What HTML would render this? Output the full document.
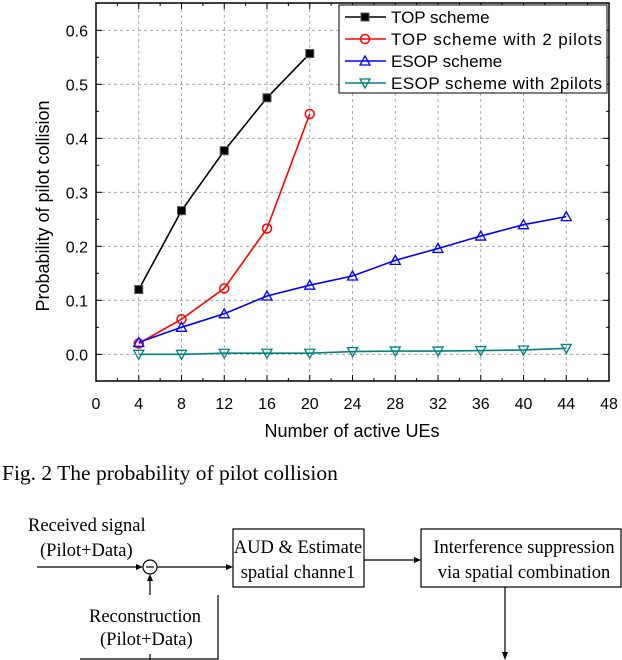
<!DOCTYPE html>
<html><head><meta charset="utf-8"><style>
body{margin:0;background:#fff;width:622px;height:660px;overflow:hidden}
svg{display:block}
</style></head><body>
<svg id="c" width="622" height="660" xmlns="http://www.w3.org/2000/svg" font-family="Liberation Sans, sans-serif">
<g id="plot"></g>
<g><text x="2" y="480" font-family="Liberation Serif, serif" font-size="21.5">Fig. 2 The probability of pilot collision</text></g>
<g font-family="Liberation Serif, serif" font-size="18.5" stroke-width="1.2">
<text x="28" y="531">Received signal</text>
<text x="40" y="556">(Pilot+Data)</text>
<line x1="37" y1="567" x2="141" y2="567" stroke="#000"/>
<polygon points="143,567 136,564 136,570" fill="#000"/>
<circle cx="150" cy="567" r="7" fill="none" stroke="#000"/>
<line x1="146" y1="567" x2="154" y2="567" stroke="#000"/>
<line x1="157" y1="567" x2="231" y2="567" stroke="#000"/>
<polygon points="233,567 226,564 226,570" fill="#000"/>
<line x1="150" y1="595" x2="150" y2="576" stroke="#000"/>
<polygon points="150,574 147,581 153,581" fill="#000"/>
<rect x="233" y="529" width="131" height="58" fill="none" stroke="#000"/>
<text x="298" y="553" text-anchor="middle">AUD &amp; Estimate</text>
<text x="298" y="578" text-anchor="middle">spatial channe1</text>
<line x1="364" y1="560" x2="419" y2="560" stroke="#000"/>
<polygon points="421,560 414,557 414,563" fill="#000"/>
<rect x="421" y="529" width="200" height="58" fill="none" stroke="#000"/>
<text x="524" y="553" text-anchor="middle">Interference suppression</text>
<text x="524" y="578" text-anchor="middle">via spatial combination</text>
<line x1="505" y1="587" x2="505" y2="655" stroke="#000"/>
<polygon points="505,660 502,652 508,652" fill="#000"/>
<polyline points="218,595 218,659 80,659" fill="none" stroke="#000"/>
<line x1="150" y1="654" x2="150" y2="660" stroke="#000"/>
<text x="89" y="622">Reconstruction</text>
<text x="100" y="645">(Pilot+Data)</text>
</g>
</svg>
<script>
const xs=[4,8,12,16,20,24,28,32,36,40,44];
const topScheme=[0.12,0.266,0.377,0.475,0.557];
const top2=[0.02,0.065,0.122,0.233,0.445];
const esop=[0.022,0.05,0.075,0.108,0.128,0.145,0.174,0.196,0.219,0.24,0.255];
const esop2=[0,0,0.002,0.002,0.002,0.005,0.006,0.006,0.007,0.008,0.011];
const xTicks=[0,4,8,12,16,20,24,28,32,36,40,44,48];
const yTicks=[0,0.1,0.2,0.3,0.4,0.5,0.6];
const L=96,R=609,T=3,B=381;
const X=v=>L+(v-0)/48*(R-L);
const Y=v=>354.3-v*540;
const NS='http://www.w3.org/2000/svg';
const g=document.getElementById('plot');
function mk(t,a,p){const e=document.createElementNS(NS,t);for(const k in a)e.setAttribute(k,a[k]);(p||g).appendChild(e);return e;}
xTicks.slice(1,-1).forEach(v=>{const e=mk('line',{x1:X(v),x2:X(v),y1:T,y2:B,stroke:'#999','stroke-dasharray':'3,3','stroke-width':0.8});

});
yTicks.forEach(v=>{const e=mk('line',{x1:L,x2:R,y1:Y(v),y2:Y(v),stroke:'#999','stroke-dasharray':'3,3','stroke-width':0.8});

});
const fr=mk('rect',{x:L,y:T,width:R-L,height:B-T,fill:'none',stroke:'#000','stroke-width':1.5});


for(let v=0;v<=48;v+=2){const len=v%4===0?6:3;
mk('line',{x1:X(v),x2:X(v),y1:B,y2:B-len,stroke:'#000'});mk('line',{x1:X(v),x2:X(v),y1:T,y2:T+len,stroke:'#000'});}
for(let i=-1;i<=13;i++){const v=i*0.05;const y=Y(v);if(y<T||y>B)continue;const len=i%2===0?6:3;
mk('line',{x1:L,x2:L+len,y1:y,y2:y,stroke:'#000'});mk('line',{x1:R,x2:R-len,y1:y,y2:y,stroke:'#000'});}
xTicks.forEach(v=>{const t=mk('text',{x:X(v),y:409,'text-anchor':'middle','font-size':16});t.textContent=v;

});
yTicks.forEach(v=>{const t=mk('text',{x:88,y:Y(v)+6,'text-anchor':'end','font-size':16});t.textContent=v.toFixed(1);

});
const xt=mk('text',{x:352,y:437,'text-anchor':'middle','font-size':18});xt.textContent='Number of active UEs';


const yt=mk('text',{x:0,y:0,'text-anchor':'middle','font-size':18,transform:'translate(49,206) rotate(-90)'});yt.textContent='Probability of pilot collision';


function marker(type,x,y,c,p){
 if(type==='sq')mk('rect',{x:x-4,y:y-4,width:8,height:8,fill:c,stroke:'#555'},p);
 else if(type==='ci')mk('circle',{cx:x,cy:y,r:4.5,fill:'none',stroke:c,'stroke-width':1.5},p);
 else if(type==='up')mk('polygon',{points:`${x},${y-5} ${x-5},${y+4} ${x+5},${y+4}`,fill:'none',stroke:c,'stroke-width':1.3},p);
 else mk('polygon',{points:`${x},${y+5} ${x-5},${y-4} ${x+5},${y-4}`,fill:'none',stroke:c,'stroke-width':1.3},p);}
const series=[[topScheme,'#000','sq','TOP scheme','series-top'],[top2,'#f00','ci','TOP scheme with 2 pilots','series-top-2-pilots'],[esop,'#00f','up','ESOP scheme','series-esop'],[esop2,'#008080','dn','ESOP scheme with 2pilots','series-esop-2-pilots']];
series.forEach(([d,c,m,lab,nm])=>{const sg=mk('g',{});


mk('polyline',{points:d.map((v,i)=>X(xs[i])+','+Y(v)).join(' '),fill:'none',stroke:c,'stroke-width':1.6},sg);
d.forEach((v,i)=>marker(m,X(xs[i]),Y(v),c,sg));});
const lg=mk('g',{});


mk('rect',{x:339,y:5,width:268,height:88,fill:'#fff',stroke:'#000','stroke-width':1},lg);
series.forEach(([d,c,m,lab],i)=>{const y=17+i*22;const eg=mk('g',{},lg);


mk('line',{x1:345,x2:386,y1:y,y2:y,stroke:c,'stroke-width':1.6},eg);marker(m,365,y,c,eg);
const t=mk('text',{x:391,y:y+6,'font-size':17,textLength:lab.length>15?211:0},eg);if(lab.length<=15)t.removeAttribute('textLength');t.textContent=lab;});
</script>
</body></html>
